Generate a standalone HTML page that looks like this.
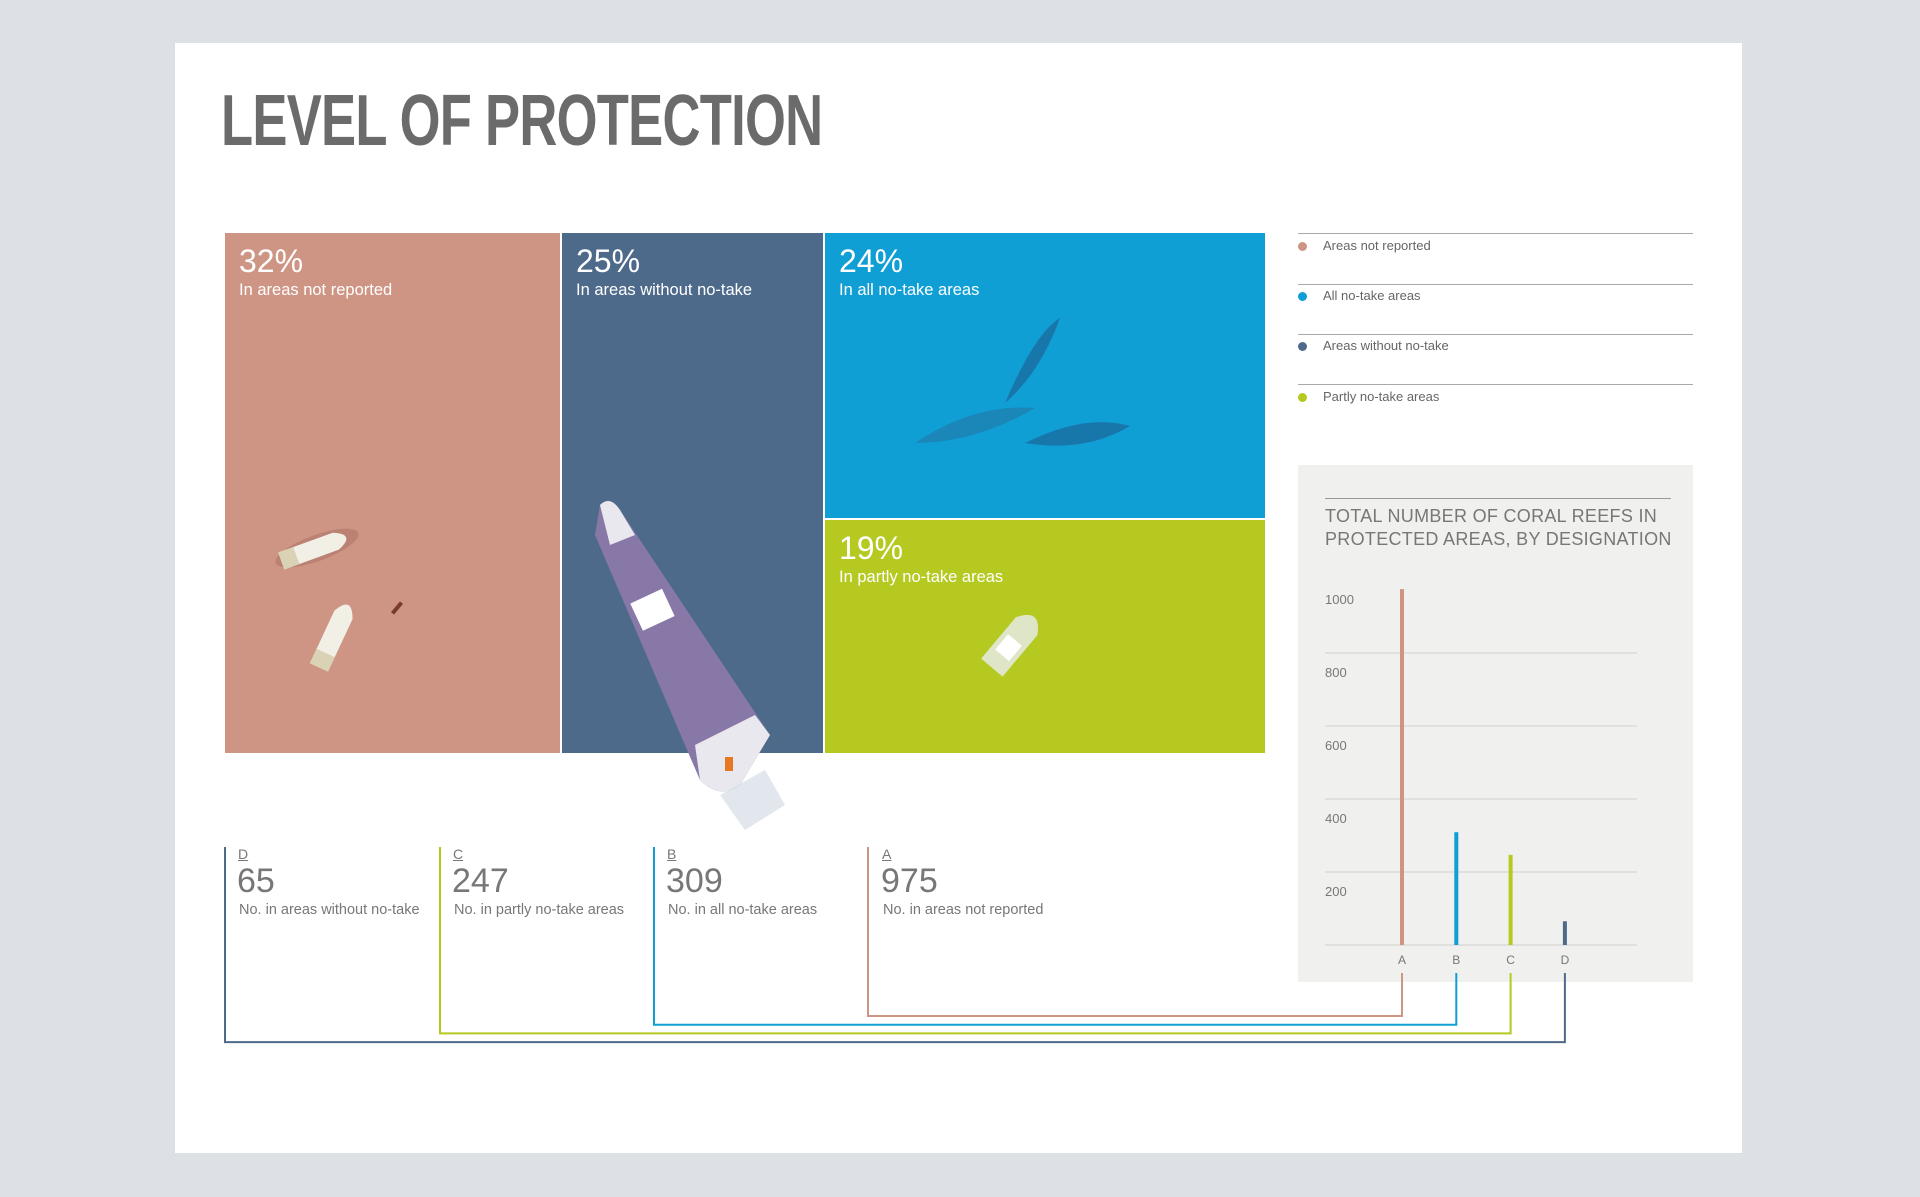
<!DOCTYPE html>
<html><head><meta charset="utf-8">
<style>
*{margin:0;padding:0;box-sizing:border-box}
body{width:1920px;height:1197px;background:#dde1e6;font-family:"Liberation Sans",sans-serif;position:relative;overflow:hidden}
.card{position:absolute;left:175px;top:43px;width:1567px;height:1110px;background:#fff}
.abs{position:absolute}
.title{left:221px;top:80px;font-size:72px;font-weight:bold;color:#6b6b6b;transform:scaleX(0.73);transform-origin:left top;letter-spacing:-1px}
.tile{position:absolute;color:#fff;overflow:hidden}
.pct{position:absolute;left:14px;top:10px;font-size:32px;font-weight:normal}
.pct span{font-weight:normal}
.sub{position:absolute;left:14px;top:48px;font-size:16.5px}
.leg{position:absolute;left:1298px;width:395px;height:1px;background:#a9a9a9}
.legt{position:absolute;left:1323px;font-size:13px;color:#666}
.dot{position:absolute;left:1298px;width:9px;height:9px;border-radius:50%}
.stat .l{position:absolute;font-size:14px;color:#777;text-decoration:underline}
.stat .n{position:absolute;font-size:34px;color:#777}
.stat .d{position:absolute;font-size:14.5px;color:#777}
</style></head><body>
<div class="card"></div>
<div class="abs title">LEVEL OF PROTECTION</div>

<div class="tile" style="left:225px;top:233px;width:335px;height:520px;background:#cf9584">
 <div class="pct">32<span>%</span></div><div class="sub">In areas not reported</div>
 <svg class="abs" style="left:0;top:0" width="335" height="520">
  <g transform="translate(92,315) rotate(-20)"><ellipse cx="0" cy="0" rx="44" ry="13" fill="#a86e5f" opacity=".5"/><path d="M-38,-9 L20,-9 Q42,0 20,9 L-38,9 Z" fill="#f2efe6"/><rect x="-38" y="-9" width="16" height="18" fill="#d9d2b4"/></g>
  <g transform="translate(110,400) rotate(-65)"><path d="M-38,-10 L20,-10 Q42,0 20,10 L-38,10 Z" fill="#f2efe6"/><rect x="-38" y="-10" width="16" height="20" fill="#d9d2b4"/></g>
  <rect x="170" y="368" width="4" height="14" fill="#7a3b2c" transform="rotate(40 172 375)"/>
 </svg>
</div>
<div class="tile" style="left:562px;top:233px;width:261px;height:520px;background:#4e6a8a">
 <div class="pct">25<span>%</span></div><div class="sub">In areas without no-take</div>
</div>
<div class="tile" style="left:825px;top:233px;width:440px;height:285px;background:#109fd5">
 <div class="pct">24<span>%</span></div><div class="sub">In all no-take areas</div>
 <svg class="abs" style="left:0;top:0" width="440" height="285">
  <path d="M90,210 Q150,170 210,175 Q150,210 90,210Z" fill="#1b86b8"/>
  <path d="M200,210 Q260,180 305,193 Q260,220 200,210Z" fill="#1877aa"/>
  <path d="M180,170 Q210,100 235,85 Q215,140 180,170Z" fill="#1877aa"/>
 </svg>
</div>
<div class="tile" style="left:825px;top:520px;width:440px;height:233px;background:#b5c920">
 <div class="pct">19<span>%</span></div><div class="sub">In partly no-take areas</div>
 <svg class="abs" style="left:0;top:0" width="440" height="233">
  <g transform="translate(190,120) rotate(-50)"><path d="M-36,-14 L18,-14 Q42,0 18,14 L-36,14 Z" fill="#dfe6c8"/><rect x="-20" y="-9" width="20" height="18" fill="#fff"/></g>
 </svg>
</div>
<svg class="abs" style="left:590px;top:495px" width="210" height="340">
 <path d="M10,10 Q20,0 30,15 L180,240 L150,290 Q130,305 110,285 L5,40 Z" fill="#8878a8"/>
 <path d="M10,10 Q20,0 30,15 L45,40 L20,50 Z" fill="#e8e8ee"/>
 <path d="M105,250 L165,220 L180,240 L150,290 Q130,305 110,285 Z" fill="#e8e8ee"/>
 <path d="M130,300 L175,275 L195,310 L155,335 Z" fill="#d6dbe6" opacity=".7"/>
 <rect x="45" y="100" width="35" height="30" fill="#fff" transform="rotate(-25 62 115)"/>
 <rect x="135" y="262" width="8" height="14" fill="#e87722"/>
</svg>

<!-- legend -->
<div class="leg" style="top:233px"></div>
<div class="leg" style="top:284px"></div>
<div class="leg" style="top:334px"></div>
<div class="leg" style="top:384px"></div>
<div class="dot" style="top:242px;background:#cf9584"></div>
<div class="legt" style="top:238px">Areas not reported</div>
<div class="dot" style="top:292px;background:#109fd5"></div>
<div class="legt" style="top:288px">All no-take areas</div>
<div class="dot" style="top:342px;background:#4e6a8a"></div>
<div class="legt" style="top:338px">Areas without no-take</div>
<div class="dot" style="top:393px;background:#b5c920"></div>
<div class="legt" style="top:389px">Partly no-take areas</div>

<!-- stats -->
<div class="stat">
 <div class="l" style="left:238px;top:846px">D</div>
 <div class="n" style="left:237px;top:862px">65</div>
 <div class="d" style="left:239px;top:902px">No. in areas without no-take</div>
 <div class="l" style="left:453px;top:846px">C</div>
 <div class="n" style="left:452px;top:862px">247</div>
 <div class="d" style="left:454px;top:902px">No. in partly no-take areas</div>
 <div class="l" style="left:667px;top:846px">B</div>
 <div class="n" style="left:666px;top:862px">309</div>
 <div class="d" style="left:668px;top:902px">No. in all no-take areas</div>
 <div class="l" style="left:882px;top:846px">A</div>
 <div class="n" style="left:881px;top:862px">975</div>
 <div class="d" style="left:883px;top:902px">No. in areas not reported</div>
</div>

<!-- chart panel -->
<div class="abs" style="left:1298px;top:465px;width:395px;height:517px;background:#f0f0ee"></div>
<div class="abs" style="left:1325px;top:498px;width:346px;height:1px;background:#999"></div>
<div class="abs" style="left:1325px;top:505px;font-size:18px;line-height:23px;color:#777;letter-spacing:0.3px">TOTAL NUMBER OF CORAL REEFS IN<br>PROTECTED AREAS, BY DESIGNATION</div>

<svg id="chart" class="abs" style="left:0;top:0" width="1920" height="1197"></svg>
<script>
const categories=["A","B","C","D"];
const values=[975,309,247,65];
const colors=["#cf9584","#109fd5","#b5c920","#4e6a8a"];
const tickValues=[200,400,600,800,1000];
const statX=[868,654,440,225];
const NS="http://www.w3.org/2000/svg";
const svg=document.getElementById("chart");
const y0=945,k=0.365;
function yScale(v){return y0-v*k;}
function xScale(i){return 1402+i*54.3;}
function mk(t,a){const e=document.createElementNS(NS,t);for(const n in a)e.setAttribute(n,a[n]);svg.appendChild(e);return e;}
[0].concat(tickValues).forEach(v=>{
 if(v<1000){const g=mk("line",{x1:1325,x2:1637,y1:yScale(v),y2:yScale(v),stroke:"#d0d0cc","stroke-width":1});
 
 }
 if(v>0){const t=mk("text",{x:1325,y:yScale(v)+24,"font-size":13,fill:"#777","font-family":"Liberation Sans"});t.textContent=v;
 
 }
});
categories.forEach((c,i)=>{
 const x=xScale(i);
 const b=mk("rect",{x:x-2,y:yScale(values[i]),width:4,height:values[i]*k,fill:colors[i]});
 
 
 const t=mk("text",{x:x,y:964,"font-size":12,fill:"#777","text-anchor":"middle","font-family":"Liberation Sans"});t.textContent=c;
 
 
 const ly=1016+i*8.7;
 const sx=statX[i];
 const p=mk("polyline",{points:`${sx},847 ${sx},${ly} ${x},${ly} ${x},973`,fill:"none",stroke:colors[i],"stroke-width":2});
 
 
});
</script>
</body></html>
